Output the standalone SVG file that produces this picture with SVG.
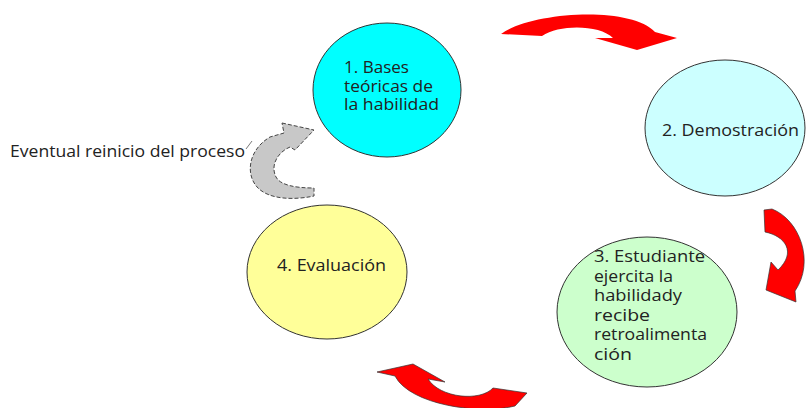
<svg xmlns="http://www.w3.org/2000/svg" width="806" height="408" viewBox="0 0 806 408">
<style>
.node{stroke:#333;stroke-width:1}
.t{font-family:"Open Sans","Noto Sans",sans-serif;font-size:16px;fill:#222}
.t1{font-size:15.5px}
.t3{font-size:16px}
.red{fill:#ff0000;stroke:#333;stroke-width:0.7}
.gray{fill:#c8c8c8;stroke:#444;stroke-width:1;stroke-dasharray:4,2}
</style>
<rect width="806" height="408" fill="#fff"/>
<g id="connectors">
<path id="arrow-1-2" d="M501,34 C530,12 630,5 655,32 L677,38 L637,50 L595,38 L613,38 C600,25 560,24 542,36 Z" fill="#ff0000"/>
<path id="arrow-2-3" class="red" d="M764,210 L772,209 C800,220 815,262 795,291 L796,302 L766,290 L771,262 L778,270 C797,252 785,236 765,232 Z"/>
<path id="arrow-3-4" class="red" d="M377,372 L413,364 L445,382 L428,379 C440,398 480,402 493,388 L527,393 L515,406 C480,415 410,405 395,376 Z"/>
<path id="arrow-4-1" class="gray" d="M282,123 L314,130 L295,150 L290,147 C278,152 270,165 276,177 C280,185 295,188 314,188 L314,196 C295,200 270,200 258,188 C245,175 248,150 270,137 L284,133 Z"/>
<line x1="246" y1="149" x2="252" y2="141" stroke="#555" stroke-width="0.8"/>
</g>
<g id="node1">
<ellipse class="node" cx="387" cy="90" rx="74" ry="67" fill="#00ffff"/>
<text class="t t1" x="344" y="73" textLength="65" lengthAdjust="spacingAndGlyphs">1. Bases</text>
<text class="t t1" x="344" y="91.5" textLength="89" lengthAdjust="spacingAndGlyphs">teóricas de</text>
<text class="t t1" x="344" y="110" textLength="95" lengthAdjust="spacingAndGlyphs">la habilidad</text>
</g>
<g id="node2">
<ellipse class="node" cx="725" cy="128" rx="80" ry="68" fill="#ccffff"/>
<text class="t" x="662" y="136" textLength="137" lengthAdjust="spacingAndGlyphs">2. Demostración</text>
</g>
<g id="node3">
<ellipse class="node" cx="647" cy="312" rx="90" ry="75" fill="#ccffcc"/>
<text class="t t3" x="594" y="262" textLength="111" lengthAdjust="spacingAndGlyphs">3. Estudiante</text>
<text class="t t3" x="594" y="281.5" textLength="79" lengthAdjust="spacingAndGlyphs">ejercita la</text>
<text class="t t3" x="594" y="301" textLength="88" lengthAdjust="spacingAndGlyphs">habilidady</text>
<text class="t t3" x="594" y="320.5" textLength="56" lengthAdjust="spacingAndGlyphs">recibe</text>
<text class="t t3" x="594" y="340" textLength="113" lengthAdjust="spacingAndGlyphs">retroalimenta</text>
<text class="t t3" x="594" y="359.5" textLength="38" lengthAdjust="spacingAndGlyphs">ción</text>
</g>
<g id="node4">
<ellipse class="node" cx="327" cy="272" rx="80" ry="67" fill="#ffff99"/>
<text class="t" x="277" y="271" textLength="109" lengthAdjust="spacingAndGlyphs">4. Evaluación</text>
</g>
<g id="label">
<text class="t" x="10" y="157" textLength="235" lengthAdjust="spacingAndGlyphs">Eventual reinicio del proceso</text>
</g>
</svg>
